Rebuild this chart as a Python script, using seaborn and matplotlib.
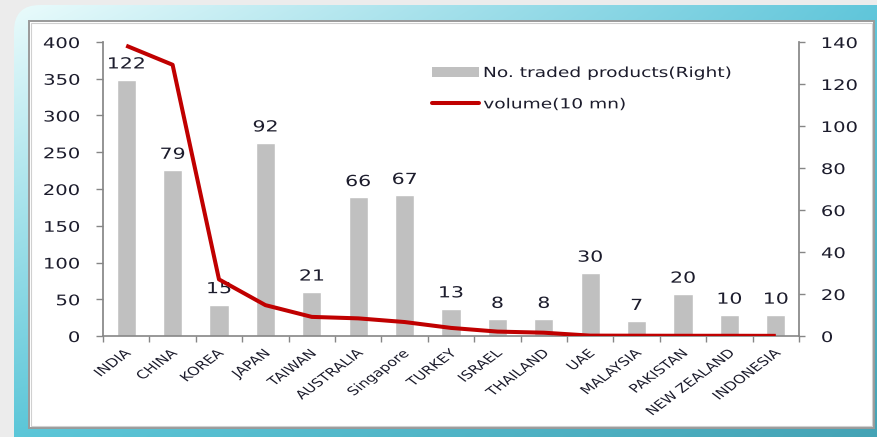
import numpy as np
import pandas as pd
import matplotlib
matplotlib.use("Agg")
import matplotlib.pyplot as plt
from matplotlib.patches import FancyBboxPatch, Rectangle, Patch
from matplotlib.lines import Line2D
from matplotlib.patheffects import AbstractPathEffect
from matplotlib.transforms import Affine2D, ScaledTranslation
import seaborn as sns

# ---- data -------------------------------------------------------------
countries = ["INDIA", "CHINA", "KOREA", "JAPAN", "TAIWAN", "AUSTRALIA",
             "Singapore", "TURKEY", "ISRAEL", "THAILAND", "UAE", "MALAYSIA",
             "PAKISTAN", "NEW ZEALAND", "INDONESIA"]
traded_products = [122, 79, 15, 92, 21, 66, 67, 13, 8, 8, 30, 7, 20, 10, 10]
volume_10mn = [395, 369, 77, 42, 26, 24, 19, 11, 6, 4.5, 0.5, 0.4, 0.3, 0.3, 0.2]
left_ticks = [0, 50, 100, 150, 200, 250, 300, 350, 400]
right_ticks = [0, 20, 40, 60, 80, 100, 120, 140]

df = pd.DataFrame({"country": countries,
                   "products": traded_products,
                   "volume": volume_10mn,
                   "pos": np.arange(len(countries))})


class HStretch(AbstractPathEffect):
    """Widen rendered text horizontally about a fixed point of its box."""

    def __init__(self, sx=1.34, frac=0.0):
        super().__init__()
        self.sx = sx
        self.frac = frac

    def draw_path(self, renderer, gc, tpath, affine, rgbFace=None):
        ext = tpath.get_extents(affine)
        x0 = ext.x0 + self.frac * ext.width
        wide = affine + Affine2D().translate(-x0, 0).scale(self.sx, 1).translate(x0, 0)
        renderer.draw_path(gc, tpath, wide, rgbFace)


def widen(texts, frac):
    for t in texts:
        t.set_path_effects([HStretch(1.34, frac)])


# ---- style ------------------------------------------------------------
sns.set_theme(style="white")
plt.rcParams["font.family"] = ["DejaVu Sans"]
TXT = "#1c1c2c"
SPINE = "#868686"
BAR = "#c0c0c0"
RED = "#c00000"

W, H = 878, 437
fig = plt.figure(figsize=(W / 100, H / 100), dpi=100, facecolor="#ececec")

# ---- rounded gradient frame -------------------------------------------
bg = fig.add_axes([0, 0, 1, 1], zorder=-10)
bg.set_xlim(0, W)
bg.set_ylim(H, 0)
bg.axis("off")
u, v = np.meshgrid(np.linspace(0, 1, 220), np.linspace(0, 1, 110))
u, v = u[..., None], v[..., None]
tl = np.array([0.93, 0.99, 0.99])
tr = np.array([0.38, 0.78, 0.86])
bl = np.array([0.36, 0.78, 0.85])
br = np.array([0.27, 0.64, 0.71])
grad = (tl * (1 - u) * (1 - v) + tr * u * (1 - v) + bl * (1 - u) * v + br * u * v)
frame = FancyBboxPatch((14, 5), W + 40, H + 40,
                       boxstyle="round,pad=0,rounding_size=26",
                       transform=bg.transData, facecolor="none", edgecolor="none")
bg.add_patch(frame)
img = bg.imshow(grad, extent=[0, W, H, 0], aspect="auto", interpolation="bilinear")
img.set_clip_path(frame)
bg.add_patch(Rectangle((29, 21), 845, 407, facecolor="white",
                       edgecolor="#9a9a9a", linewidth=1.4, zorder=3))
bg.add_patch(Rectangle((31, 23), 841, 403, facecolor="none",
                       edgecolor="#d0d0d0", linewidth=0.8, zorder=3))

# ---- main axes --------------------------------------------------------
ax_bar = fig.add_axes([103 / W, 101 / H, 696 / W, 294 / H])
ax_bar.set_facecolor("none")
sns.barplot(data=df, x="country", y="products", ax=ax_bar, color=BAR,
            saturation=1, width=0.41, order=countries)
ax_bar.set_ylim(0, 140)
ax_bar.set_xlim(-0.5, len(countries) - 0.5)
bar_texts = ax_bar.bar_label(ax_bar.containers[0],
                             labels=[str(v) for v in traded_products],
                             padding=6, fontsize=11, color=TXT)
widen(bar_texts, 0.5)

ax_line = ax_bar.twinx()
ax_line.set_facecolor("none")
sns.lineplot(data=df, x="pos", y="volume", ax=ax_line, color=RED,
             linewidth=2.9, solid_capstyle="butt")
ax_line.set_ylim(0, 400)

# left axis = volume, right axis = product count
ax_line.yaxis.tick_left()
ax_line.yaxis.set_label_position("left")
ax_bar.yaxis.tick_right()
ax_bar.yaxis.set_label_position("right")
ax_line.set_yticks(left_ticks)
ax_bar.set_yticks(right_ticks)
for a in (ax_bar, ax_line):
    a.set_xlabel("")
    a.set_ylabel("")
    for s in a.spines.values():
        s.set_visible(False)
ax_line.tick_params(axis="y", which="major", length=5, width=1, color=SPINE,
                    labelsize=10.5, labelcolor=TXT, pad=11.5)
ax_bar.tick_params(axis="y", which="major", length=4, width=1, color=SPINE,
                   labelsize=10.5, labelcolor=TXT, pad=12)

ax_line.spines["left"].set_visible(True)
ax_line.spines["left"].set_color(SPINE)
ax_bar.spines["right"].set_visible(True)
ax_bar.spines["right"].set_color(SPINE)
ax_bar.spines["bottom"].set_visible(True)
ax_bar.spines["bottom"].set_color(SPINE)
ax_bar.spines["bottom"].set_linewidth(1.2)

# category labels at centres, separators as tick marks between categories
ax_bar.set_xticks(np.arange(len(countries)))
ax_bar.set_xticklabels(countries, rotation=45, ha="right", rotation_mode="anchor",
                       fontsize=8.5, color=TXT)
ax_bar.set_xticks(np.arange(len(countries) + 1) - 0.5, minor=True)
ax_bar.tick_params(axis="x", which="major", length=0, pad=8)
ax_bar.tick_params(axis="x", which="minor", length=4.5, width=1, color=SPINE,
                   bottom=True)
ax_line.tick_params(axis="x", which="both", length=0, labelbottom=False)

nudge = ScaledTranslation(-2 / 100, 0, fig.dpi_scale_trans)
for lab in ax_bar.get_xticklabels():
    lab.set_transform(lab.get_transform() + nudge)
widen(ax_bar.get_xticklabels(), 1.0)
widen(ax_line.get_yticklabels(), 1.0)
widen(ax_bar.get_yticklabels(), 0.0)

# ---- legend -----------------------------------------------------------
handles = [Patch(facecolor=BAR, edgecolor="none"),
           Line2D([0], [0], color=RED, linewidth=2.9)]
leg = fig.legend(handles, ["No. traded products(Right)", "volume(10 mn)"],
                 loc="upper left", bbox_to_anchor=(432 / W, 1 - 66 / H),
                 frameon=False, fontsize=10, handlelength=3.4, handleheight=0.7,
                 handletextpad=0.3, labelspacing=1.25, borderpad=0,
                 borderaxespad=0, labelcolor=TXT)
widen(leg.get_texts(), 0.0)

fig.savefig("out.png", dpi=100, facecolor=fig.get_facecolor())
